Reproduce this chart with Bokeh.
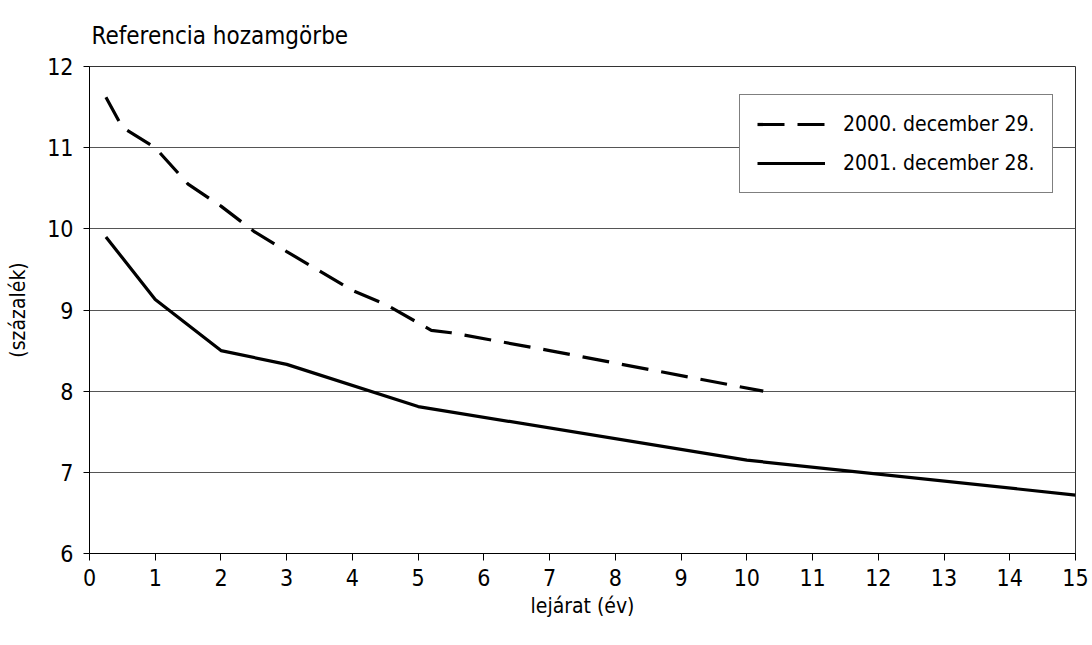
from bokeh.plotting import figure
from bokeh.models import Range1d, FixedTicker, Legend, LegendItem
from bokeh.embed import file_html
from bokeh.resources import INLINE

# data
x2000 = [0.25, 0.5, 1.0, 1.5, 2.0, 2.5, 3.0, 4.0, 4.5, 5.2, 5.5, 7.0, 10.25]
y2000 = [11.62, 11.25, 11.0, 10.55, 10.28, 9.97, 9.72, 9.24, 9.07, 8.75, 8.72, 8.5, 8.0]
x2001 = [0.25, 1.0, 2.0, 3.0, 5.0, 10.0, 15.0]
y2001 = [9.9, 9.13, 8.5, 8.33, 7.81, 7.15, 6.72]
series_labels = ["2000. december 29.", "2001. december 28."]
x_ticks = list(range(0, 16))
y_ticks = list(range(6, 13))
title_text = "Referencia hozamgörbe"
x_label = "lejárat (év)"
y_label = "(százalék)"

FONT = "'Liberation Sans Narrow', 'DejaVu Sans Condensed', 'Roboto Condensed', Roboto, sans-serif"

p = figure(width=1092, height=645, output_backend="svg", toolbar_location=None,
           x_range=Range1d(0, 15), y_range=Range1d(6, 12),
           min_border_left=89, min_border_right=17, min_border_top=66, min_border_bottom=92)

p.title.text = title_text
p.title.align = "left"
p.title.text_font = FONT
p.title.text_font_size = "24px"
p.title.text_font_style = "normal"
p.title.text_color = "black"
p.title.offset = 2
p.title.standoff = 34

p.xgrid.visible = False
p.ygrid.grid_line_color = "#555555"
p.ygrid.grid_line_width = 1
p.ygrid.ticker = FixedTicker(ticks=y_ticks)

p.outline_line_color = "#333333"
p.outline_line_width = 1
p.background_fill_color = "white"
p.border_fill_color = "white"

for ax in (p.xaxis[0], p.yaxis[0]):
    ax.axis_line_color = "black"
    ax.axis_line_width = 1
    ax.major_tick_line_color = "black"
    ax.major_tick_in = 0
    ax.minor_tick_line_color = None
    ax.major_label_text_font = FONT
    ax.major_label_text_font_size = "23px"
    ax.major_label_text_color = "black"
    ax.axis_label_text_font = FONT
    ax.axis_label_text_font_size = "21px"
    ax.axis_label_text_font_style = "normal"
    ax.axis_label_text_color = "black"

p.xaxis.ticker = FixedTicker(ticks=x_ticks)
p.yaxis.ticker = FixedTicker(ticks=y_ticks)
p.xaxis.major_tick_out = 7
p.yaxis.major_tick_out = 6
p.xaxis.major_label_standoff = 8
p.yaxis.major_label_standoff = 10
p.xaxis.axis_label = x_label
p.yaxis.axis_label = y_label
p.xaxis.axis_label_standoff = 5
p.yaxis.axis_label_standoff = 14

r1 = p.line(x2000, y2000, line_color="black", line_width=3.2, line_dash="27 13", line_cap="butt")
r2 = p.line(x2001, y2001, line_color="black", line_width=3.2)

legend = Legend(items=[LegendItem(label=series_labels[0], renderers=[r1]),
                       LegendItem(label=series_labels[1], renderers=[r2])],
                location=(650, 360), margin=0,
                border_line_color="black", border_line_width=1,
                background_fill_color="white", background_fill_alpha=1,
                label_text_font=FONT, label_text_font_size="21px", label_text_color="black",
                glyph_width=68, glyph_height=20, label_height=20,
                spacing=15, padding=17, label_standoff=18)
p.add_layout(legend, "center")

open("out.html", "w").write(file_html(p, INLINE))
